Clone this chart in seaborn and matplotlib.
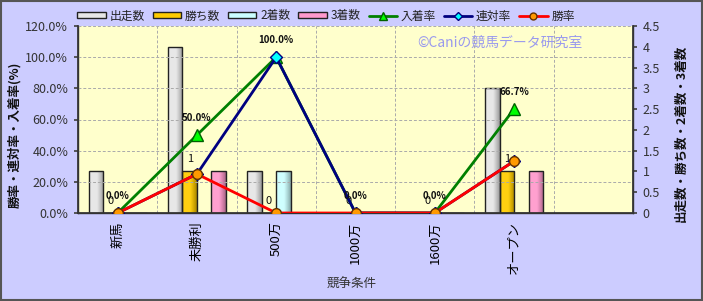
import numpy as np
import pandas as pd
import matplotlib
matplotlib.use("Agg")
import matplotlib.pyplot as plt
import matplotlib.colors as mcolors
from matplotlib.patches import Rectangle, Patch
from matplotlib.lines import Line2D
import seaborn as sns

# ---------------- data ----------------
categories = ["新馬", "未勝利", "500万", "1000万", "1600万", "オープン"]
starts = [1, 4, 1, 0, 0, 3]          # 出走数
wins = [0, 1, 0, 0, 0, 1]            # 勝ち数
seconds = [0, 0, 1, 0, 0, 0]         # 2着数
thirds = [0, 1, 0, 0, 0, 1]          # 3着数
place_rate = [0.0, 50.0, 100.0, 0.0, 0.0, 66.7]   # 入着率
rentai_rate = [0.0, 25.0, 100.0, 0.0, 0.0, 33.3]  # 連対率
win_rate = [0.0, 25.0, 0.0, 0.0, 0.0, 33.3]       # 勝率
bar_names = ["出走数", "勝ち数", "2着数", "3着数"]
line_names = ["入着率", "連対率", "勝率"]
left_ticks = [0, 20, 40, 60, 80, 100, 120]
right_ticks = [0, 0.5, 1, 1.5, 2, 2.5, 3, 3.5, 4, 4.5]

sns.set_theme(style="white")
plt.rcParams["font.family"] = ["Noto Sans CJK JP", "DejaVu Sans"]

BG = "#ccccff"
PLOT_BG = "#ffffcc"
bar_colors = ["#e6e6e6", "#ffcc00", "#ccffff", "#ff99cc"]

df = pd.DataFrame({
    "条件": categories * 4,
    "種別": sum([[n] * len(categories) for n in bar_names], []),
    "数": starts + wins + seconds + thirds,
})
order = categories + [" "]

fig = plt.figure(figsize=(7.03, 3.01), dpi=100, facecolor=BG)
ax1 = fig.add_axes([78 / 703, 1 - 213 / 301, (633 - 78) / 703, (213 - 26) / 301])
ax1.set_facecolor(PLOT_BG)

sns.barplot(data=df, x="条件", y="数", hue="種別", order=order, hue_order=bar_names,
            palette=bar_colors, width=0.73, saturation=1, edgecolor="#222222",
            linewidth=1.0, ax=ax1, legend=False, zorder=3)

# cylinder-like gradient on bars
def shade(base):
    r, g, b = mcolors.to_rgb(base)
    xs = np.linspace(0, 1, 64)
    prof = 0.55 + 0.45 * np.clip(1 - np.abs(xs - 0.3) / 0.7, 0, 1) ** 0.8
    light = np.clip(1.15 * prof, 0, 1)
    img = np.zeros((1, 64, 3))
    for i, c in enumerate((r, g, b)):
        img[0, :, i] = np.clip(c * light + (1 - c) * 0.35 * np.clip(light - 0.8, 0, 1), 0, 1)
    return img

for k, cont in enumerate(ax1.containers):
    for p in cont.patches:
        if p.get_height() <= 0:
            continue
        x0, y0 = p.get_x(), p.get_y()
        w, h = p.get_width(), p.get_height()
        im = ax1.imshow(shade(bar_colors[k]), extent=[x0, x0 + w, y0, y0 + h],
                        aspect="auto", zorder=3.05, interpolation="bilinear")
        im.set_clip_path(p)
        p.set_facecolor("none")
        p.set_zorder(3.1)

# count labels on 勝ち数 bars
for p, v in zip(ax1.containers[1].patches, wins):
    ax1.annotate(f"{v}", (p.get_x() + p.get_width() / 2, p.get_height()),
                 xytext=(0, 9), textcoords="offset points", ha="center", va="center",
                 fontsize=8, color="#111111", zorder=6)

ax1.set_xlim(-0.5, len(order) - 0.5)
ax1.set_ylim(0, 4.5)
ax1.set_xlabel("")
ax1.set_ylabel("")
ax1.set_xticks(range(len(order)))
ax1.set_xticklabels(order, rotation=90, fontsize=9.5, color="black")
ax1.set_xticks(np.arange(-0.5, len(order), 1), minor=True)
ax1.tick_params(axis="x", which="major", length=0, pad=6)
ax1.tick_params(axis="x", which="minor", length=3, color="#444444")
ax1.grid(False)
ax1.grid(True, axis="x", which="minor", linestyle=(0, (3, 2)), color="#aaaaaa", linewidth=0.7, zorder=0)
ax1.spines["top"].set_visible(False)
for s in ["left", "right", "bottom"]:
    ax1.spines[s].set_color("#333333")
    ax1.spines[s].set_linewidth(1.0)

# ---------------- rate lines ----------------
ax2 = ax1.twinx()
ax2.set_facecolor("none")

# counts axis on the right, rates axis on the left
ax1.yaxis.tick_right()
ax1.set_yticks(right_ticks)
ax1.set_yticklabels([f"{v:g}" for v in right_ticks])
ax1.tick_params(axis="y", left=False, labelleft=False, right=True, labelright=True,
                length=3, color="#444444", labelsize=9, labelcolor="#333333", pad=4)

ax2.yaxis.tick_left()
ax2.yaxis.set_label_position("left")
x_pos = np.arange(len(categories))

sns.lineplot(x=x_pos, y=place_rate, ax=ax2, color="#008000", linewidth=2,
             marker="^", markersize=8, markerfacecolor="#00ff00", markeredgecolor="#006000",
             markeredgewidth=1, zorder=4)
sns.lineplot(x=x_pos, y=rentai_rate, ax=ax2, color="#000080", linewidth=2,
             marker="D", markersize=6, markerfacecolor="#00ffff", markeredgecolor="#000080",
             markeredgewidth=1, zorder=5)
sns.lineplot(x=x_pos, y=win_rate, ax=ax2, color="#ff0000", linewidth=2,
             marker="o", markersize=7, markerfacecolor="#ff9900", markeredgecolor="#663300",
             markeredgewidth=1, zorder=6)

for xp, v in zip(x_pos, place_rate):
    ax2.annotate(f"{v:.1f}%", (xp, v), xytext=(0, 12), textcoords="offset points",
                 ha="center", va="center", fontsize=7, fontweight="bold",
                 color="#111111", zorder=7)

ax2.set_ylim(0, 120)
ax2.set_yticks(left_ticks)
ax2.set_yticklabels([f"{v:.1f}%" for v in left_ticks])
ax2.tick_params(axis="y", length=3, color="#444444", labelsize=9, labelcolor="#333333",
                pad=4, left=True, labelleft=True, right=False, labelright=False)
ax2.grid(True, axis="y", linestyle=(0, (3, 2)), color="#aaaaaa", linewidth=0.7)
ax2.set_ylabel("")
ax2.spines["top"].set_visible(False)
for s in ["left", "right", "bottom"]:
    ax2.spines[s].set_color("#333333")

# watermark
ax2.text(0.76, 0.91, "©Caniの競馬データ研究室", transform=ax2.transAxes,
         ha="center", va="center", fontsize=10, color="#9999ee", zorder=2)

# axis titles
fig.text(15 / 703, 1 - 135 / 301, "勝率・連対率・入着率(%)", rotation=90,
         ha="center", va="center", fontsize=9, fontweight="bold", color="#111111")
fig.text(681 / 703, 1 - 133 / 301, "出走数・勝ち数・2着数・3着数", rotation=90,
         ha="center", va="center", fontsize=9, fontweight="bold", color="#111111")
fig.text(352 / 703, 1 - 284 / 301, "競争条件", ha="center", va="center",
         fontsize=9, color="#333333")

# legend
handles = [Patch(facecolor=c, edgecolor="#222222", linewidth=1) for c in bar_colors]
handles += [
    Line2D([0], [0], color="#008000", lw=2, marker="^", markersize=6,
           markerfacecolor="#00ff00", markeredgecolor="#006000"),
    Line2D([0], [0], color="#000080", lw=2, marker="D", markersize=4,
           markerfacecolor="#00ffff", markeredgecolor="#000080"),
    Line2D([0], [0], color="#ff0000", lw=2, marker="o", markersize=5,
           markerfacecolor="#ff9900", markeredgecolor="#663300"),
]
leg = fig.legend(handles, bar_names + line_names, loc="center", ncol=7,
                 bbox_to_anchor=(326 / 703, 1 - 16 / 301), frameon=False,
                 fontsize=8.5, handlelength=2.4, handleheight=0.45,
                 handletextpad=0.3, columnspacing=0.7)
for t in leg.get_texts():
    t.set_color("#222222")

# figure border
fig.patches.append(Rectangle((0.001, 0.002), 0.997, 0.995, transform=fig.transFigure,
                             fill=False, edgecolor="#555555", linewidth=1.5))

fig.savefig("out.png", dpi=100, facecolor=BG)
